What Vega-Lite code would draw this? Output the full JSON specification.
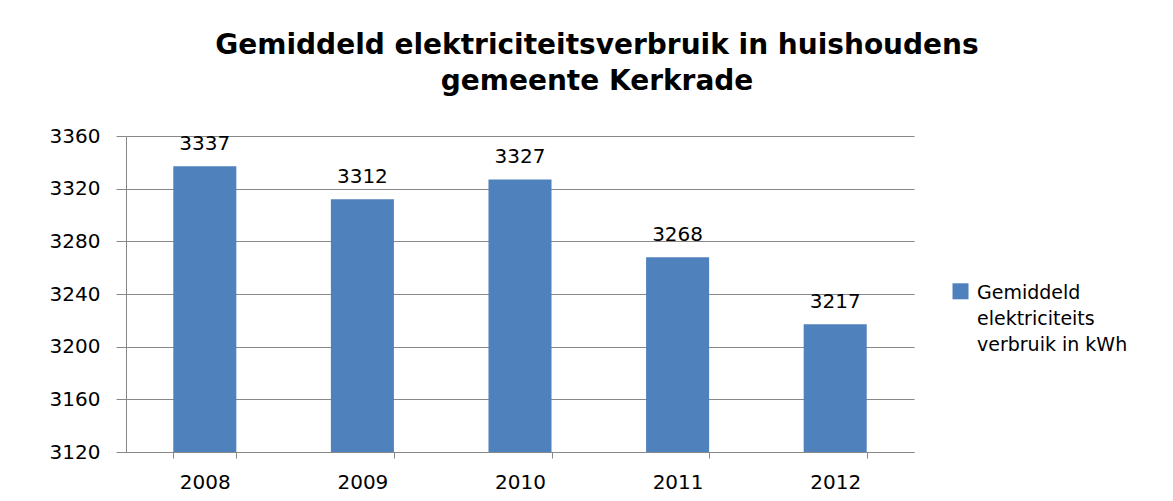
{
  "$schema": "https://vega.github.io/schema/vega-lite/v6.json",
  "width": 788,
  "height": 316,
  "autosize": {"type": "none"},
  "padding": {"left": 126, "top": 136, "right": 259, "bottom": 49},
  "background": "white",
  "title": {
    "text": ["Gemiddeld elektriciteitsverbruik in huishoudens", "gemeente Kerkrade"],
    "font": "DejaVu Sans",
    "fontSize": 28,
    "fontWeight": "bold",
    "color": "black",
    "anchor": "middle",
    "frame": "group",
    "dx": 77,
    "offset": 30,
    "lineHeight": 36
  },
  "data": {
    "values": [
      {"jaar": "2008", "verbruik": 3337, "reeks": "Gemiddeld elektriciteits verbruik in kWh"},
      {"jaar": "2009", "verbruik": 3312, "reeks": "Gemiddeld elektriciteits verbruik in kWh"},
      {"jaar": "2010", "verbruik": 3327, "reeks": "Gemiddeld elektriciteits verbruik in kWh"},
      {"jaar": "2011", "verbruik": 3268, "reeks": "Gemiddeld elektriciteits verbruik in kWh"},
      {"jaar": "2012", "verbruik": 3217, "reeks": "Gemiddeld elektriciteits verbruik in kWh"}
    ]
  },
  "encoding": {
    "x": {
      "field": "jaar",
      "type": "nominal",
      "scale": {"paddingInner": 0.6, "paddingOuter": 0.3},
      "axis": {
        "title": null,
        "labelAngle": 0,
        "labelFont": "DejaVu Sans",
        "labelFontSize": 20,
        "labelColor": "black",
        "labelPadding": 14,
        "tickBand": "extent",
        "tickSize": 6,
        "tickColor": "#888888",
        "domainColor": "#888888",
        "grid": false
      }
    },
    "y": {
      "field": "verbruik",
      "type": "quantitative",
      "scale": {"domain": [3120, 3360], "zero": false, "nice": false},
      "axis": {
        "title": null,
        "values": [3120, 3160, 3200, 3240, 3280, 3320, 3360],
        "format": "d",
        "labelFont": "DejaVu Sans",
        "labelFontSize": 20,
        "labelColor": "black",
        "labelPadding": 16,
        "tickSize": 10,
        "tickColor": "#888888",
        "domainColor": "#888888",
        "gridColor": "#888888",
        "gridOpacity": 1,
        "grid": true
      }
    }
  },
  "layer": [
    {
      "mark": {"type": "bar", "clip": true},
      "encoding": {
        "color": {
          "field": "reeks",
          "type": "nominal",
          "scale": {"range": ["#4F81BD"]},
          "legend": {
            "title": null,
            "orient": "none",
            "legendX": 825,
            "legendY": 153,
            "symbolType": "M-1,-1.9H1V0.1H-1Z",
            "symbolSize": 256,
            "symbolOpacity": 1,
            "symbolStrokeWidth": 0,
            "labelFont": "DejaVu Sans",
            "labelFontSize": 19,
            "labelColor": "black",
            "labelBaseline": "alphabetic",
            "labelOffset": 7,
            "labelLimit": 300,
            "labelExpr": "['Gemiddeld', 'elektriciteits', 'verbruik in kWh']",
            "encode": {"labels": {"update": {"lineHeight": {"value": 26}}}}
          }
        }
      }
    },
    {
      "mark": {"type": "text", "baseline": "bottom", "dy": -12, "font": "DejaVu Sans", "fontSize": 20, "color": "black"},
      "encoding": {"text": {"field": "verbruik", "type": "quantitative"}}
    }
  ],
  "config": {
    "view": {"stroke": null}
  }
}
